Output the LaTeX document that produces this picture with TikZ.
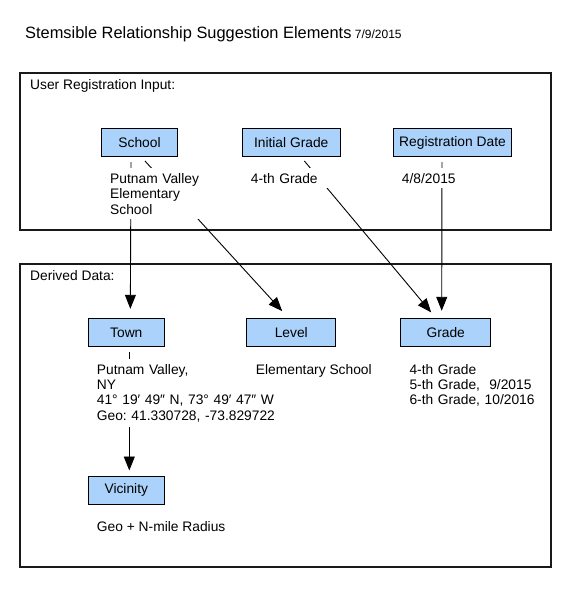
\documentclass[tikz,border=0pt]{standalone}
\usepackage{fontspec}
\setmainfont{Liberation Sans}
\usetikzlibrary{arrows.meta,positioning}
\definecolor{boxblue}{RGB}{170,210,250}
\newcommand{\txtfont}{\fontsize{13.8}{15.4}\selectfont}
\frenchspacing
\tikzset{
  elem/.style={draw=black, fill=boxblue, line width=1pt, minimum height=28.4pt, inner sep=0pt, font=\txtfont},
  info/.style={anchor=base west, fill=white, inner sep=5pt, align=left, font=\txtfont},
  lbl/.style={anchor=base west, inner sep=0pt, font=\txtfont},
  arr/.style={line width=0.9pt, -{Triangle[length=14pt,width=11pt]}, shorten >=7pt, shorten <=5pt},
  frame/.style={line width=2pt, black!90}
}

\begin{document}
\begin{tikzpicture}[x=1pt,y=-1pt]
  \def\ra{142.5}
  \def\rb{332.5}

  % Fixed bounding box
  \path[use as bounding box] (0,0) rectangle (573,602);

  % Title
  \node[anchor=base west, inner sep=0pt] (title) at (25,39) {\fontsize{16.4}{19}\selectfont Stemsible Relationship Suggestion Elements};
  \node[anchor=base west, inner sep=0pt] (date) at ([xshift=3pt]title.base east) {\fontsize{12}{14}\selectfont 7/9/2015};

  % Two frames
  \draw[frame] (20,73) rectangle (551,230);
  \draw[frame] (20,264) rectangle (551,567);
  \node[lbl] (inputlbl) at (30,89.5) {User Registration Input:};
  \node[lbl] (derivedlbl) at (30,280.5) {Derived Data:};

  % Element boxes
  \node[elem, minimum width=76pt] (school) at (139.5,\ra) {School};
  \node[elem, minimum width=97.7pt] (initgrade) at (291.2,\ra) {Initial Grade};
  \node[elem, minimum width=118.4pt] (regdate) at (452.5,\ra) {Registration Date};
  \node[elem, minimum width=76pt] (town) at (126.3,\rb) {Town};
  \node[elem, minimum width=89.3pt] (level) at (291.3,\rb) {Level};
  \node[elem, minimum width=90pt] (grade) at (445.7,\rb) {Grade};
  \node[elem, minimum width=76pt] (vicinity) at (126.3,490.2) {Vicinity};

  % Connectors (partly hidden by the value texts)
  \draw[arr, shorten >=9pt] ([xshift=-8.5pt]school.south) -- ([xshift=4pt]town.north);
  \draw[arr, shorten >=9pt] ([xshift=2pt]school.south) -- ([xshift=-3pt]level.north);
  \draw[arr] ([xshift=10pt]initgrade.south) -- ([xshift=-10pt]grade.north);
  \draw[arr] ([xshift=-10.5pt]regdate.south) -- ([xshift=-4pt]grade.north);
  \draw[arr, shorten >=5pt] ([xshift=3pt]town.south) -- ([xshift=3pt]vicinity.north);

  % Value texts
  \node[info, text width=95pt] (schoolval) at (105,183.3) {Putnam Valley\\Elementary\\School};
  \node[info, text width=80pt] (initgradeval) at (245.7,183.3) {4-th Grade};
  \node[info, text width=70pt] (regdateval) at (396.7,183.3) {4/8/2015};
  \node[info, text width=200pt] (townval) at (91.7,374) {Putnam Valley,\\NY\\41° 19′ 49″ N, 73° 49′ 47″ W\\Geo: 41.330728, -73.829722};
  \node[info] (levelval) at (250.7,374) {Elementary School};
  \node[info, text width=128pt] (gradeval) at (404.3,374) {4-th Grade\\5-th Grade,\ \ 9/2015\\6-th Grade, 10/2016};
  \node[info] (vicinityval) at (91.7,531) {Geo + N-mile Radius};

\end{tikzpicture}
\end{document}
